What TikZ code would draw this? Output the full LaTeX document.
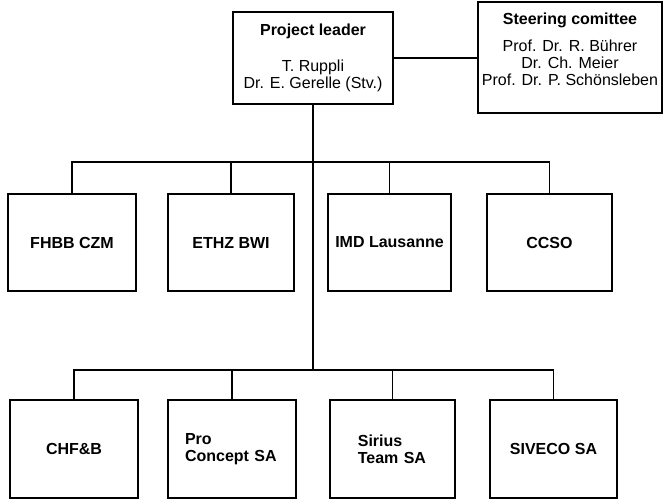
\documentclass[tikz,border=0pt]{standalone}
\usepackage{fontspec}
\setmainfont{Liberation Sans}
\begin{document}
\begin{tikzpicture}[x=0.75pt,y=-0.75pt,
  box/.style={draw, line width=1.2pt, rectangle, inner sep=0pt,
    font=\bfseries\fontsize{12}{12.75}\selectfont, align=center},
  upbox/.style={box, minimum height=72.75pt},
  lowbox/.style={box, minimum height=73.5pt},
  conn/.style={line width=1.2pt}]
\useasboundingbox (0,0) rectangle (664,501);
% top
\node[box, font=\fontsize{12}{12.75}\selectfont, minimum width=120pt, minimum height=69pt]
  (pl) at (313,58) {\textbf{Project leader}\\[14.25pt] T. Ruppli\\ Dr. E. Gerelle (Stv.)};
\node[box, font=\fontsize{12}{12.75}\selectfont]
  (sc) at (570,57.5) {\parbox[c][83.25pt][t]{138pt}{\centering\vspace*{8.2pt}\textbf{Steering comittee}\\[7.2pt]
  Prof. Dr. R. Bührer\\ Dr. Ch. Meier\\ Prof. Dr. P. Schönsleben}};
% upper row
\node[upbox, minimum width=96pt]    (fhbb) at (72,242.5)   {FHBB CZM};
\node[upbox, minimum width=94.5pt]  (ethz) at (231,242.5)  {ETHZ BWI};
\node[upbox, minimum width=92.25pt] (imd)  at (389.5,242.5){IMD Lausanne};
\node[upbox, minimum width=93.75pt] (ccso) at (549.5,242.5){CCSO};
% lower row
\node[lowbox, minimum width=96pt] (chf) at (74,449) {CHF\&B};
\node[lowbox, text width=70.5pt, inner xsep=12.75pt, align=left] (pro) at (232,449) {Pro\\Concept SA};
\node[lowbox, text width=52pt, inner xsep=20.9pt, align=left] (sir) at (392.5,449) {Sirius\\Team SA};
\node[lowbox, minimum width=95.25pt] (siv) at (553.5,449) {SIVECO SA};
% connectors
\coordinate (b1) at (313,162);
\coordinate (b2) at (313,370);
\draw[conn] (pl.east) -- (pl.east -| sc.west);
\draw[conn] (pl.south) -- (b2);
\draw[conn] (fhbb.north) |- (b1) -| (ccso.north);
\draw[conn] (ethz.north) -- (ethz.north |- b1);
\draw[conn] (imd.north) -- (imd.north |- b1);
\draw[conn] (chf.north) |- (b2) -| (siv.north);
\draw[conn] (pro.north) -- (pro.north |- b2);
\draw[conn] (sir.north) -- (sir.north |- b2);
\end{tikzpicture}
\end{document}
